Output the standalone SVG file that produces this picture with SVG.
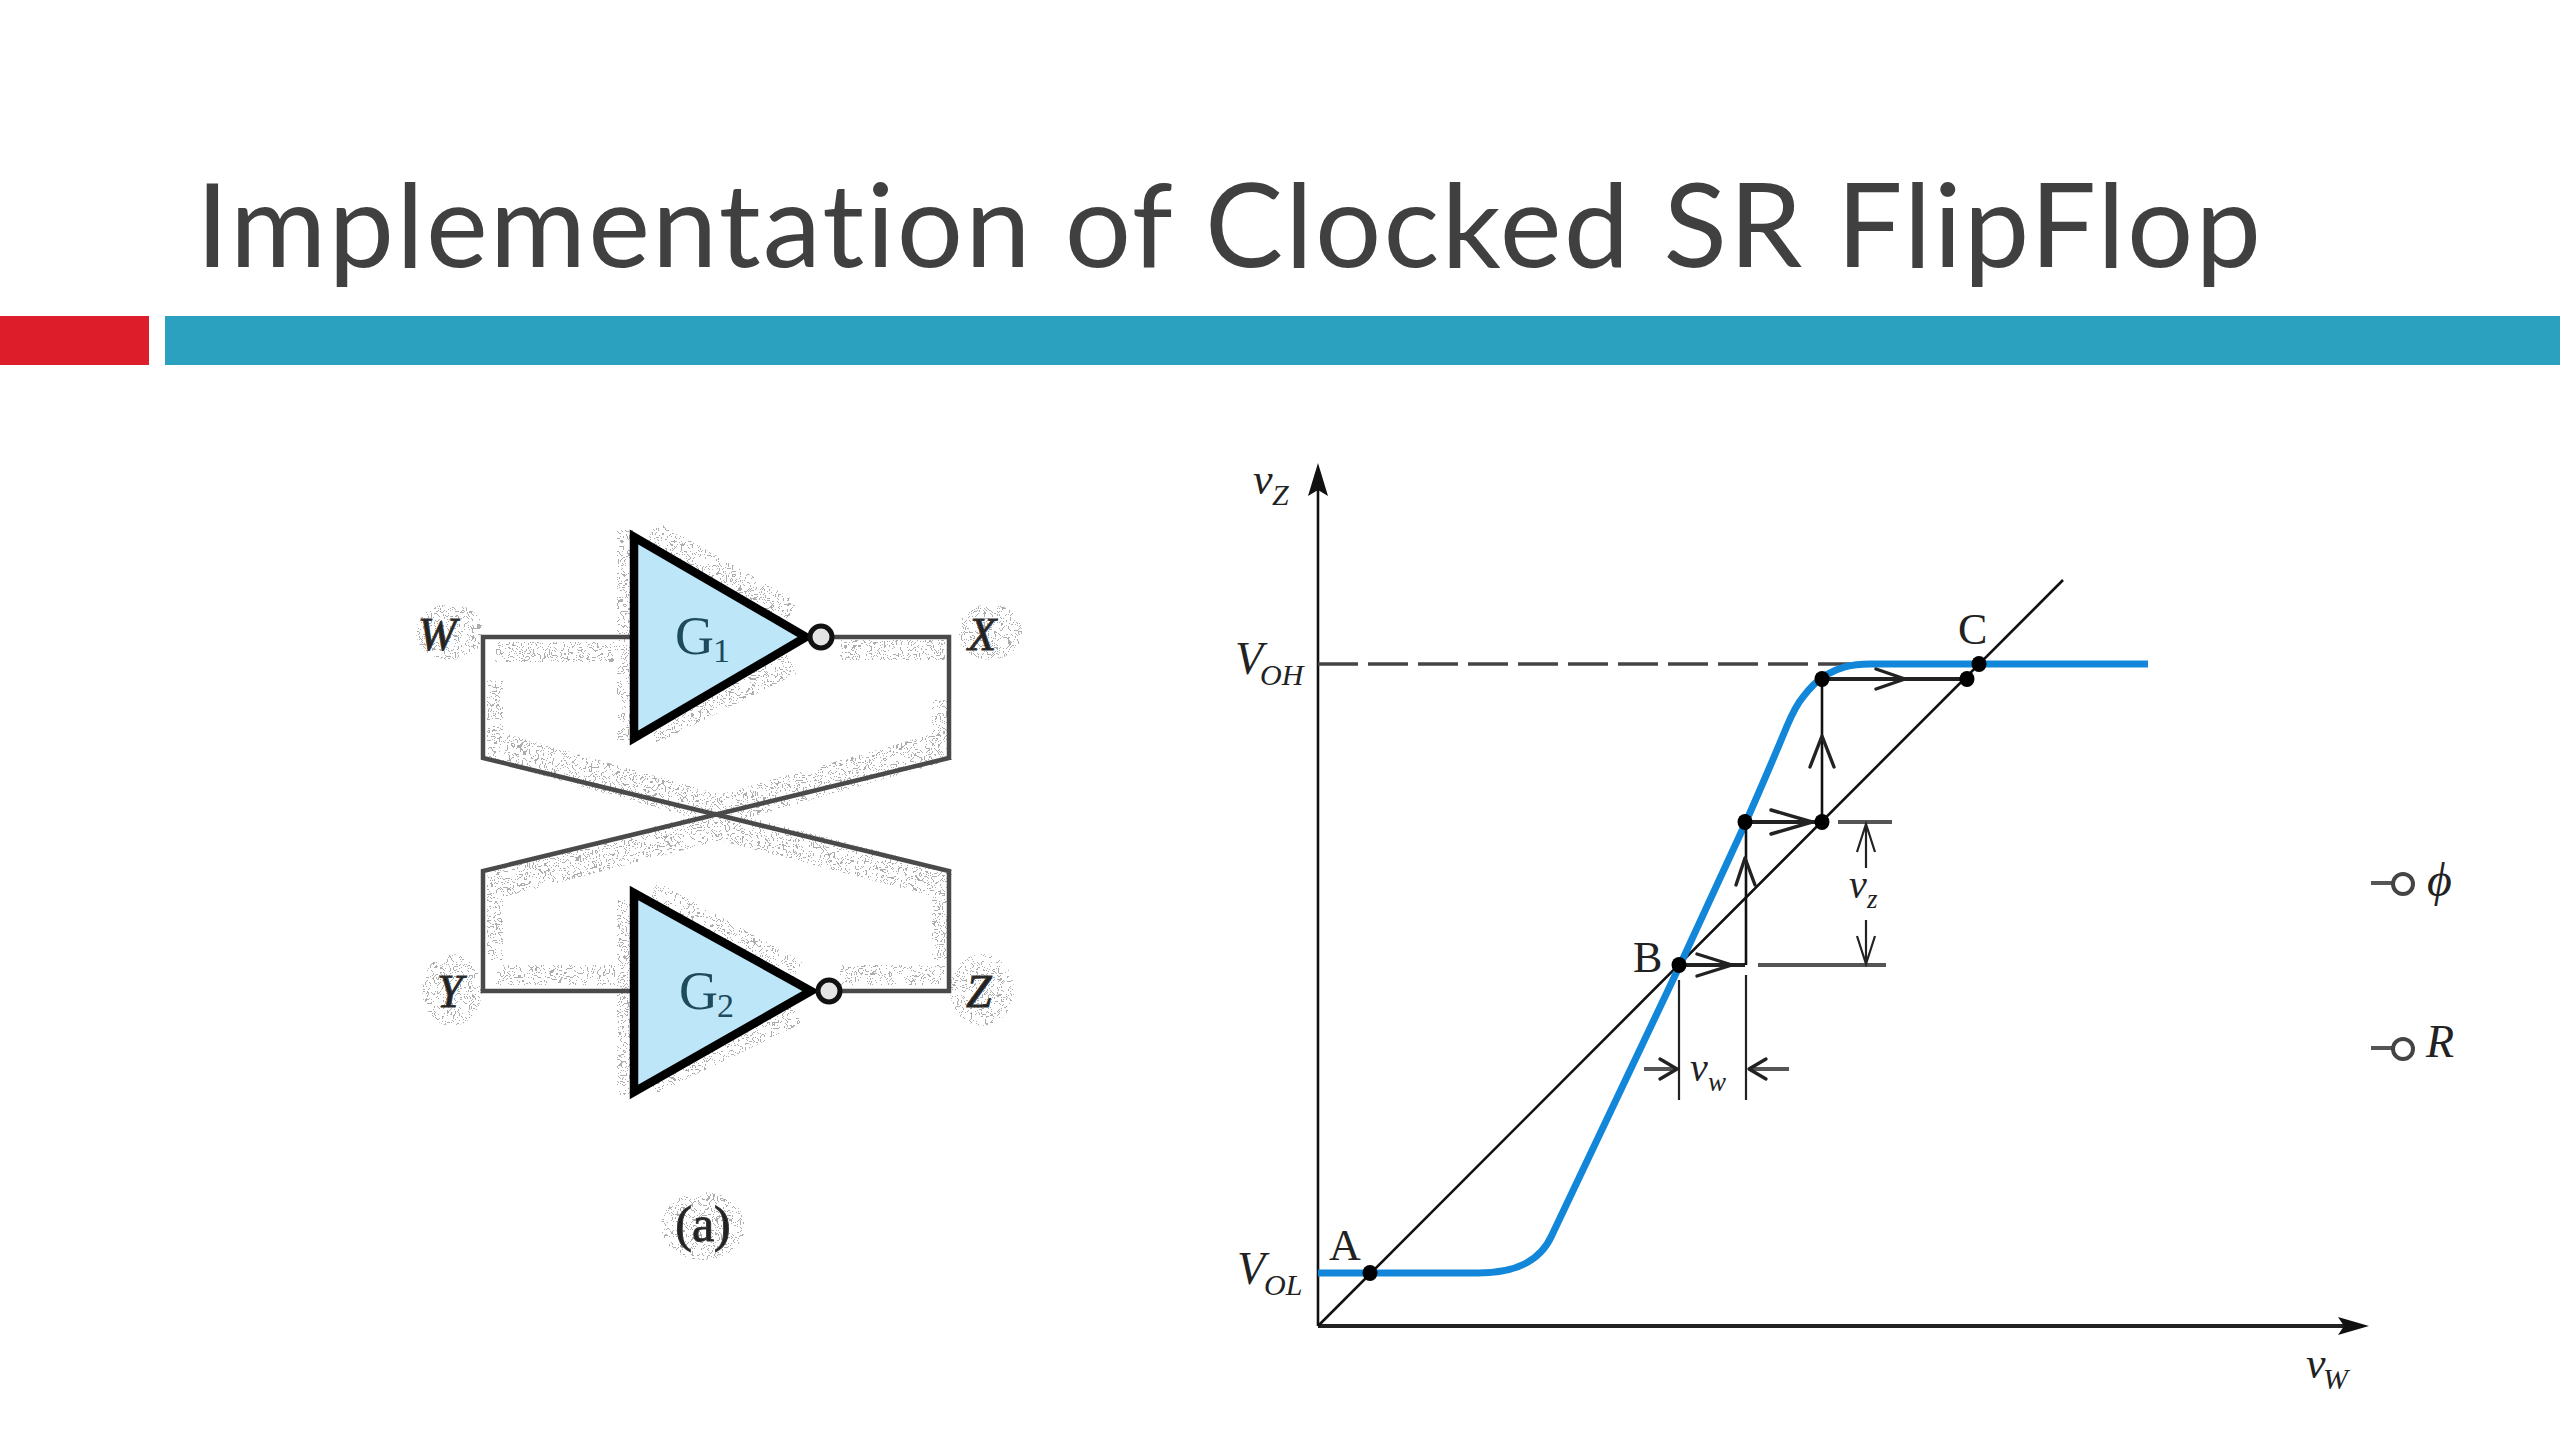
<svg xmlns="http://www.w3.org/2000/svg" width="2560" height="1440" viewBox="0 0 2560 1440">
<style>
.s{font-family:"Liberation Serif","Times New Roman",serif;fill:#222}
.i{font-style:italic}
.blur{stroke:#333;stroke-width:1}
.glabel{fill:#1d4a5c}
.wire{fill:none;stroke:#4a4a4a;stroke-width:4.5;stroke-linejoin:miter}
.gate{fill:#bde6f8;stroke:#000;stroke-width:8.5;stroke-linejoin:miter}
.bub{fill:#e4e4e4;stroke:#111;stroke-width:5}
.ln{fill:none;stroke:#111;stroke-width:2.6}
.hv{fill:none;stroke:#222;stroke-width:4}
.dim{fill:none;stroke:#555;stroke-width:4}
.open{fill:none;stroke:#222;stroke-width:3.4;stroke-linecap:round;stroke-linejoin:round}
.thin{fill:none;stroke:#222;stroke-width:2.2}
.dot{fill:#000}
</style>
<defs>
<filter id="speckle" x="-5%" y="-5%" width="110%" height="110%" color-interpolation-filters="sRGB">
<feTurbulence type="fractalNoise" baseFrequency="0.085" numOctaves="2" seed="11" result="n"/>
<feColorMatrix in="n" type="matrix" values="0 0 0 0 0.68 0 0 0 0 0.68 0 0 0 0 0.68 0 0 0 1 0" result="c"/>
<feComponentTransfer in="c" result="band">
<feFuncA type="discrete" tableValues="0 0 0 0 0 0 0 0 0 0 0 0 0 0 0 1 0 0 0 0 1 0 0 0 0 1 0 0 0 0 0 0 0 0 0 0 0 0 0 0"/>
</feComponentTransfer>
<feComposite in="band" in2="SourceAlpha" operator="in"/>
</filter>
</defs>
<rect width="2560" height="1440" fill="#fff"/>
<g id="title-bars">
<rect x="0" y="316" width="149" height="49" fill="#dd1e2a"/>
<rect x="165" y="316" width="2395" height="49" fill="#2ca0bf"/>
</g>
<text id="title" x="196" y="267" font-family="Lato,'Open Sans','Liberation Sans',sans-serif" font-size="117" fill="#404040" textLength="2065" lengthAdjust="spacing" style="font-variant-ligatures:none">Implementation of Clocked SR FlipFlop</text>
<g id="speckle-halo" filter="url(#speckle)" fill="none" stroke="#000" stroke-width="30">
<path d="M650 535L790 615M650 730L790 660M650 895L795 975M650 1080L795 1010M490 745L720 810L949 745M490 885L720 825L949 885"/>
<path d="M495 652H625M840 650H945M495 975H625M840 975H945" stroke-width="20"/>
<path d="M625 530V740M625 900V1095M495 680V750M495 880V960M940 700V750M940 880V960" stroke-width="16"/>
<ellipse cx="450" cy="632" rx="34" ry="28" fill="#000" stroke="none"/>
<ellipse cx="990" cy="632" rx="32" ry="28" fill="#000" stroke="none"/>
<ellipse cx="452" cy="990" rx="30" ry="36" fill="#000" stroke="none"/>
<ellipse cx="982" cy="990" rx="32" ry="36" fill="#000" stroke="none"/>
<ellipse cx="703" cy="1226" rx="42" ry="34" fill="#000" stroke="none"/>
</g>
<g id="connectors">
<path class="wire" d="M634 637H483V758L949 871V991H828"/>
<path class="wire" d="M832 637H949V758L483 871V991H634"/>
<path class="ln" d="M1318 1326V490"/>
<path d="M1318 463L1328 496L1318 490L1308 496Z" fill="#111"/>
<path d="M1318 1326H2345" fill="none" stroke="#222" stroke-width="4"/>
<path d="M2369 1326L2338 1317L2344 1326L2338 1335Z" fill="#111"/>
<path class="ln" d="M1318 1326L2063 580"/>
<path d="M1318 664H1850" fill="none" stroke="#444" stroke-width="3.5" stroke-dasharray="40 10"/>
<path id="curve" d="M1318 1273H1478C1515 1273 1540 1262 1552 1235L1680 965L1745 824C1760 790 1775 755 1787 726C1793 712 1797 704 1803 697C1812 685 1818 680 1826 675C1838 668 1850 664 1870 664H2148" fill="none" stroke="#1287da" stroke-width="7"/>
<path class="hv" d="M1680 965H1745M1745 822H1822M1822 679H1967"/>
<path class="ln" d="M1746 965V822M1822 822V679"/>
<path class="open" d="M1697 954L1732 965L1697 976M1736 885L1745 858L1755 885M1771 810L1812 822L1771 834M1810 767L1822 736L1834 767M1876 669L1905 679L1876 689"/>
<path class="dim" d="M1838 822H1892M1758 965H1886"/>
<path class="thin" d="M1866 826V868M1866 920V963M1857 852L1866 824L1875 852M1857 936L1866 964L1875 936"/>
<path class="thin" d="M1679 980V1100M1746 975V1100"/>
<path class="dim" d="M1644 1069H1676M1750 1069H1789"/>
<path class="open" d="M1660 1059L1677 1069L1660 1079M1766 1059L1749 1069L1766 1079"/>
<path class="dim" d="M2371 883H2392M2371 1048H2392"/>
</g>
<g id="gate-g1">
<path class="gate" d="M634 537V738L806 637Z"/>
<circle class="bub" cx="821" cy="637" r="11"/>
<text class="s glabel" x="675" y="654" font-size="54">G</text>
<text class="s glabel" x="713" y="662" font-size="34">1</text>
</g>
<g id="gate-g2">
<path class="gate" d="M634 893V1092L811 991Z"/>
<circle class="bub" cx="829" cy="991" r="11"/>
<text class="s glabel" x="679" y="1009" font-size="54">G</text>
<text class="s glabel" x="717" y="1017" font-size="34">2</text>
</g>
<g id="gate-labels">
<text class="s i blur" x="418" y="650" font-size="46">W</text>
<text class="s i blur" x="968" y="650" font-size="46">X</text>
<text class="s i blur" x="437" y="1007" font-size="46">Y</text>
<text class="s i blur" x="966" y="1007" font-size="46">Z</text>
<text class="s blur" x="703" y="1241" font-size="50" text-anchor="middle">(a)</text>
</g>
<g id="points">
<ellipse class="dot" cx="1370" cy="1273" rx="7.5" ry="8"/>
<ellipse class="dot" cx="1679" cy="965" rx="7.5" ry="8"/>
<ellipse class="dot" cx="1745" cy="822" rx="7.5" ry="8"/>
<ellipse class="dot" cx="1822" cy="822" rx="7.5" ry="8"/>
<ellipse class="dot" cx="1822" cy="679" rx="7.5" ry="8"/>
<ellipse class="dot" cx="1967" cy="679" rx="7.5" ry="8"/>
<ellipse class="dot" cx="1979" cy="664" rx="7.5" ry="8"/>
</g>
<g id="graph-labels">
<text class="s i" x="1253" y="494" font-size="44">v</text>
<text class="s i" x="1272" y="505" font-size="30">Z</text>
<text class="s i" x="1235" y="674" font-size="46">V</text>
<text class="s i" x="1260" y="685" font-size="30">OH</text>
<text class="s i" x="1237" y="1284" font-size="46">V</text>
<text class="s i" x="1264" y="1295" font-size="30">OL</text>
<text class="s" x="1958" y="644" font-size="44">C</text>
<text class="s" x="1633" y="972" font-size="44">B</text>
<text class="s" x="1329" y="1260" font-size="44">A</text>
<text class="s i" x="1849" y="898" font-size="40">v</text>
<text class="s i" x="1867" y="908" font-size="27">z</text>
<text class="s i" x="1690" y="1081" font-size="40">v</text>
<text class="s i" x="1708" y="1091" font-size="27">w</text>
<text class="s i" x="2306" y="1378" font-size="44">v</text>
<text class="s i" x="2323" y="1389" font-size="30">W</text>
</g>
<g id="terminal-phi">
<circle cx="2403" cy="884" r="10" fill="#fff" stroke="#444" stroke-width="4"/>
<text class="s i" x="2427" y="896" font-size="48">ϕ</text>
</g>
<g id="terminal-r">
<circle cx="2403" cy="1049" r="10" fill="#fff" stroke="#444" stroke-width="4"/>
<text class="s i" x="2426" y="1057" font-size="46">R</text>
</g>
</svg>
